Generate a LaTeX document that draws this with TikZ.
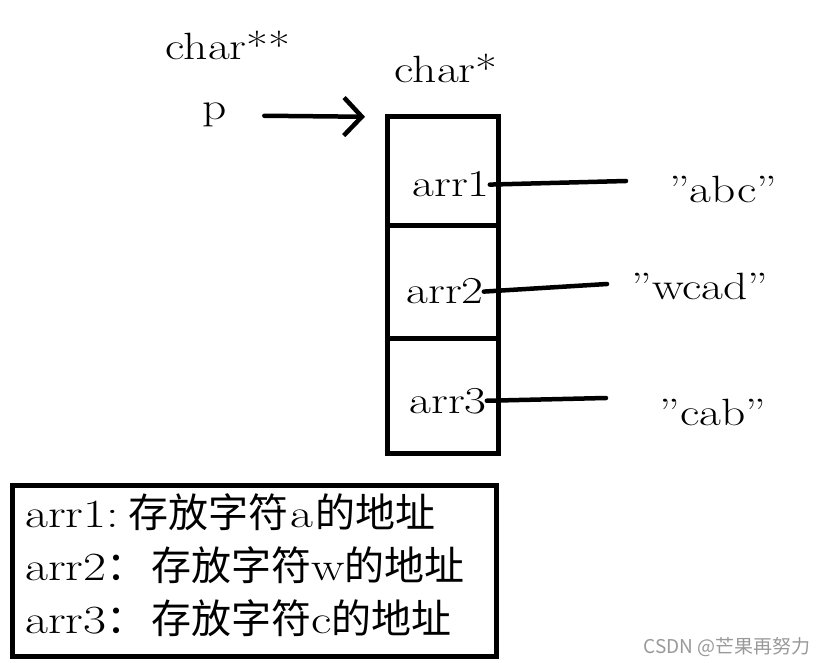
\documentclass[tikz,border=0pt]{standalone}
\usepackage{fontspec}
\setmainfont{Latin Modern Roman}[FakeStretch=1.25]
\newfontfamily\cjk{Noto Sans CJK SC}
\usetikzlibrary{positioning,arrows.meta}
\tikzset{
  lbl/.style={font=\fontsize{38}{40}\selectfont, inner sep=0pt, anchor=base},
  note/.style={font=\fontsize{40}{44}\selectfont, inner sep=0pt, anchor=base west},
  cell/.style={draw, line width=5pt, minimum width=111pt, outer sep=0pt, inner sep=0pt},
  wire/.style={line width=4.5pt, line cap=round},
}
\begin{document}
\begin{tikzpicture}[x=1pt,y=-1pt]
			\useasboundingbox (0,0) rectangle (825,663);
			%%%%% START %%%%%
			
			\node[lbl] (cpp) at (228,60) {char**};
			\node[lbl] (p) at (215,120) {p};
			\node[lbl] (cp) at (446,83) {char*};
			
			\node[cell, minimum height=109pt] (c1) at (442.5,171.5) {};
			\node[cell, minimum height=112pt, below=0pt of c1] (c2) {};
			\node[cell, minimum height=115pt, below=0pt of c2] (c3) {};
			
			\draw[wire, -{Straight Barb[length=18pt,width=38pt]}, shorten <=37pt, shorten >=22pt] (p.east) -- (c1.north west);
			
			\node[lbl] (a1) at (451,197) {arr1};
			\node[lbl] (a2) at (445,304) {arr2};
			\node[lbl] (a3) at (448,413) {arr3};
			
			\node[lbl] (s1) at (723,203) {''abc''};
			\node[lbl] (s2) at (700,300) {''wcad''};
			\node[lbl] (s3) at (713,425) {''cab''};
			
			\coordinate (e1) at (626,181);
			\coordinate (e2) at (607,284);
			\coordinate (e3) at (606,398);
			\draw[wire] (a1.east) -- (e1);
			\draw[wire] (a2.east) -- (e2);
			\draw[wire] (a3.east) -- (e3);
			
			\node[draw, line width=5pt, minimum width=484pt, minimum height=171pt, outer sep=0pt] (box) at (254,571) {};
			\node[note] (n1) at (25,527) {arr1:\kern10pt{\cjk 存放字符}\kern2pt a\kern2pt{\cjk 的地址}};
			\node[note] (n2) at (25,580) {arr2{\cjk ：}\kern5pt{\cjk 存放字符}w{\cjk 的地址}};
			\node[note] (n3) at (25,633) {arr3{\cjk ：}\kern5pt{\cjk 存放字符}c{\cjk 的地址}};
			
			\node[anchor=base east, inner sep=0pt, text=black!40, font=\cjk\fontsize{19}{20}\selectfont] (mark) at (811,653) {CSDN @芒果再努力};
			
			%%%%% END %%%%%
		\end{tikzpicture}
\end{document}
